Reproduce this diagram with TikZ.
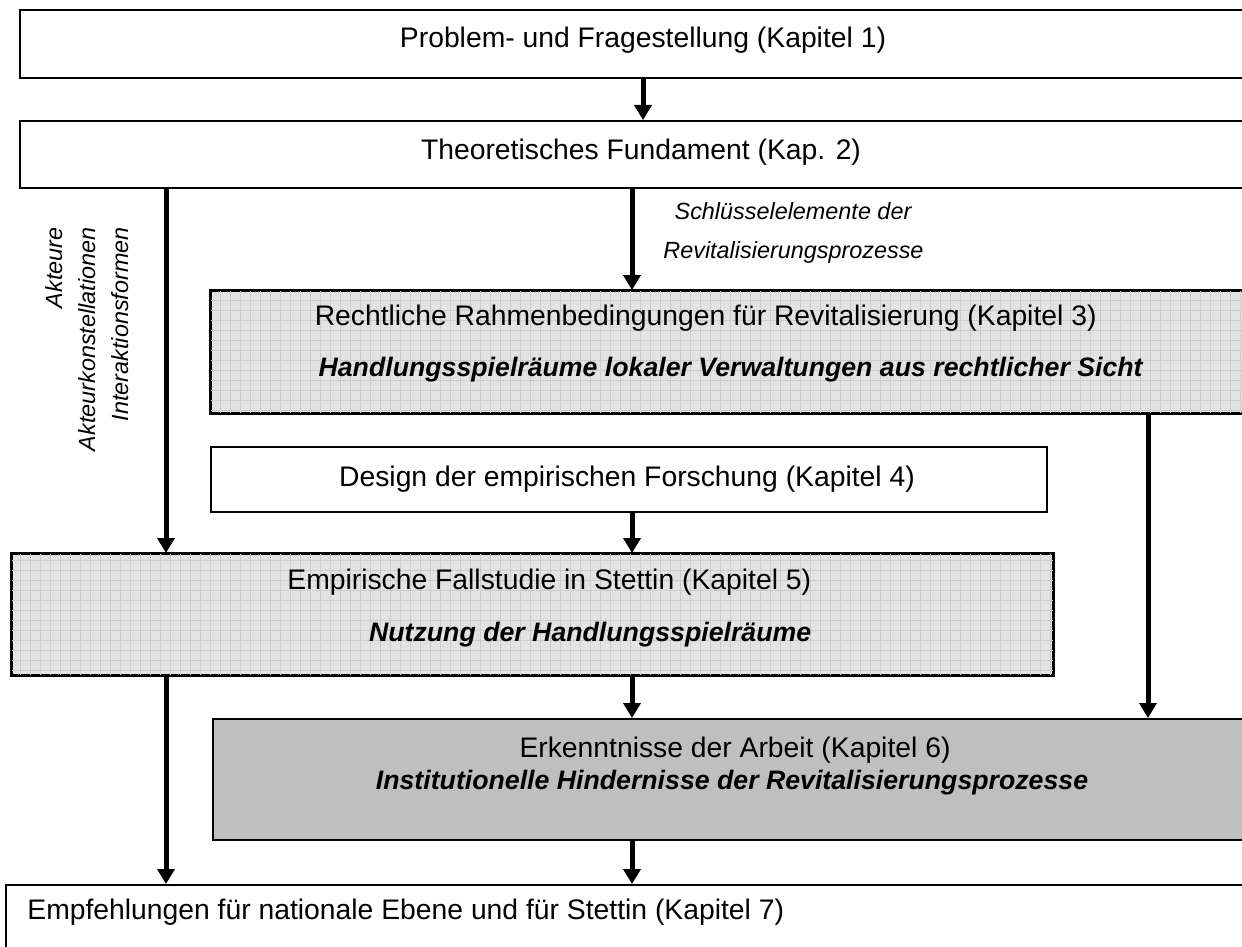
\documentclass[tikz,border=0pt]{standalone}
\usepackage{fontspec}
\setmainfont{Liberation Sans}
\usetikzlibrary{arrows.meta}
\begin{document}
\begin{tikzpicture}[x=0.5pt,y=-0.5pt,
  box/.style={draw=black,line width=1pt,anchor=north west,inner sep=0pt,fill=white},
  gridbox/.style={box,fill=black!11},
  darkbox/.style={box,fill=black!25},
  gridline/.style={draw=black!20,line width=0.5pt},
  txt/.style={inner sep=0pt,font=\fontsize{14.15pt}{17pt}\selectfont},
  bitxt/.style={inner sep=0pt,font=\fontsize{13.35pt}{16pt}\selectfont\bfseries\itshape},
  lbl/.style={inner sep=0pt,font=\fontsize{11.7pt}{16pt}\selectfont\itshape},
  arr/.style={line width=2.5pt,-{Triangle[width=8.5pt,length=7.5pt]}}
]
\useasboundingbox (0,0) rectangle (1242,947);
\clip (0,0) rectangle (1242,947);
% columns for connectors
\coordinate (cA) at (643,0);
\coordinate (cM) at (632,0);
\coordinate (cL) at (166,0);
\coordinate (cR) at (1148,0);
% boxes
\node[box,minimum width=623pt,minimum height=34pt] (b1) at (19,9) {};
\node[box,minimum width=623pt,minimum height=33.5pt] (b2) at (19,120) {};
\node[gridbox,minimum width=527.5pt,minimum height=61pt] (b3) at (210,290) {};
\node[box,minimum width=418pt,minimum height=32.5pt] (b4) at (210,446) {};
\node[gridbox,minimum width=520.5pt,minimum height=60.5pt] (b5) at (11,553) {};
\node[darkbox,minimum width=526.5pt,minimum height=60.5pt] (b6) at (212,718) {};
\node[box,minimum width=630pt,minimum height=60pt] (b7) at (5,884) {};
% grid textures
\begin{scope}
  \clip (b3.north west) rectangle (b3.south east);
  \draw[gridline,step=5pt] (b3.north west) grid (b3.south east);
\end{scope}
\draw[line width=1pt] (b3.north west) rectangle (b3.south east);
\begin{scope}
  \clip (b5.north west) rectangle (b5.south east);
  \draw[gridline,step=5pt] (b5.north west) grid (b5.south east);
\end{scope}
\draw[line width=1pt] (b5.north west) rectangle (b5.south east);
% texts
\node[txt,anchor=base] (t1) at (643,48) {Problem- und Fragestellung (Kapitel 1)};
\node[txt,anchor=base] (t2) at (641,160) {Theoretisches Fundament (Kap. 2)};
\node[txt,anchor=base east] (t3a) at (1097,325) {Rechtliche Rahmenbedingungen für Revitalisierung (Kapitel 3)};
\node[bitxt,anchor=base east] (t3b) at (1143,376) {Handlungsspielräume lokaler Verwaltungen aus rechtlicher Sicht};
\node[txt,anchor=base] (t4) at (627,486) {Design der empirischen Forschung (Kapitel 4)};
\node[txt,anchor=base west] (t5a) at (287,589) {Empirische Fallstudie in Stettin (Kapitel 5)};
\node[bitxt,anchor=base east] (t5b) at ([yshift=-26pt]t5a.base east) {Nutzung der Handlungsspielräume};
\node[txt,anchor=base] (t6a) at (735,757) {Erkenntnisse der Arbeit (Kapitel 6)};
\node[bitxt,anchor=base] (t6b) at (732,789) {Institutionelle Hindernisse der Revitalisierungsprozesse};
\node[txt,anchor=base west] (t7) at (27,919) {Empfehlungen für nationale Ebene und für Stettin (Kapitel 7)};
% labels
\node[lbl,anchor=base] (l1) at (793,220) {Schlüsselelemente der};
\node[lbl,anchor=base west] (l2) at (663,258) {Revitalisierungsprozesse};
\node[lbl,rotate=90,anchor=base east] (r1) at (62,227) {Akteure};
\node[lbl,rotate=90,anchor=base east] (r2) at (95,227) {Akteurkonstellationen};
\node[lbl,rotate=90,anchor=base east] (r3) at (128,227) {Interaktionsformen};
% connectors
\draw[arr] (b1.south -| cA) -- (b2.north -| cA);
\draw[arr] (b2.south -| cL) -- (b5.north -| cL);
\draw[arr] (b2.south -| cM) -- (b3.north -| cM);
\draw[arr] (b3.south -| cR) -- (b6.north -| cR);
\draw[arr] (b4.south -| cM) -- (b5.north -| cM);
\draw[arr] (b5.south -| cL) -- (b7.north -| cL);
\draw[arr] (b5.south -| cM) -- (b6.north -| cM);
\draw[arr] (b6.south -| cM) -- (b7.north -| cM);
\end{tikzpicture}
\end{document}
